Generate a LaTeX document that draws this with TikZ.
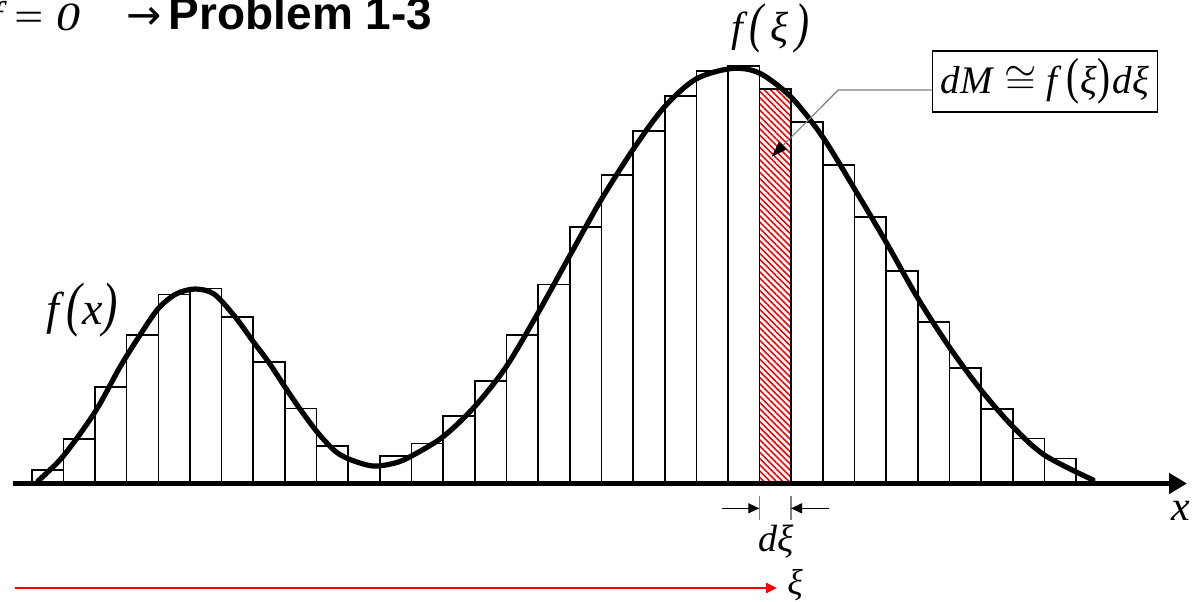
\documentclass[tikz,border=0pt]{standalone}
\usepackage{fontspec}
\setmainfont{Liberation Serif}
\newfontfamily\arialfont{Liberation Sans}
\newfontfamily\dejavufont{DejaVu Sans}
\usetikzlibrary{arrows.meta,patterns.meta}
\newcommand{\bigpar}[1]{\scalebox{1}[1.3]{#1}}
\begin{document}
\begin{tikzpicture}[x=0.5pt,y=-0.5pt,
  barbox/.style={draw=black, line width=0.8pt, fill=white},
  hatchbar/.style={draw=black, line width=0.8pt, pattern={Lines[angle=-45,distance=2.2pt,line width=0.8pt]}, pattern color=red},
  curveline/.style={line width=2.6pt, line cap=round, line join=round},
  axisline/.style={line width=2.6pt, -{Triangle[length=9pt,width=10pt]}},
  dimarrow/.style={line width=0.6pt, -{Triangle[length=5.5pt,width=5pt]}},
  tickline/.style={draw=gray, line width=0.6pt},
  redarrow/.style={red, line width=1.3pt, -{Triangle[length=5.5pt,width=5pt]}},
  callout/.style={draw=gray, line width=0.6pt, -{Triangle[length=8pt,width=5.5pt,color=black]}},
  lbl/.style={inner sep=0pt, font=\fontsize{#1}{#1}\selectfont\itshape},
  lbl/.default=18]
\useasboundingbox (0,0) rectangle (1192,601);
\fill[white] (0,0) rectangle (1192,601);

% bars
\foreach \k/\t in {0/470,1/439,2/386.7,3/335,4/294.3,5/288.3,6/316.7,7/361.7,8/408.3,9/446,
  11/456,12/443.3,13/415.7,14/381,15/335,16/284.3,17/226.7,18/175,19/130.7,20/96,21/71,22/66,
  24/121.7,25/165,26/216.7,27/270.7,28/321.7,29/367.7,30/409,31/438.3,32/458.3}
  \draw[barbox] ({31.7+\k*31.65},483) rectangle ({31.7+(\k+1)*31.65},\t);
\fill[white] (759.3,483) rectangle (791,89);
\draw[hatchbar] (759.3,483) rectangle (791,89);

% curve
\draw[curveline] plot[smooth, tension=0.5] coordinates {
  (38,481) (63.3,456) (95,412) (120,367) (140,335) (158.3,308.5) (176,294) (195,289)
  (214,294) (235,316.7) (253.3,341.7) (268.3,361.7) (285,387) (300,409) (318,433)
  (335,451) (350,459.5) (373,466) (395,463) (411.5,456) (442.7,437)
  (474.3,407) (506,367) (537.7,313.5) (569.3,256.5) (601,200) (632.7,150) (664.3,107)
  (696,79) (731.7,68.5) (759.3,73) (791,97) (822.7,137) (854.3,188.5) (886,242)
  (917.7,298) (949.3,347) (981,390) (1012.7,426.5) (1044.3,455) (1093,480)};

% axis
\coordinate (ax0) at (13,483.5);
\coordinate (ax1) at (1187,483.5);
\draw[axisline] (ax0) -- (ax1);
\node[lbl=21] (xlab) at (1181,511) {x};

% labels
\node[lbl=23] (fx) at (82,310) {f\,\bigpar{(}x\bigpar{)}};
\node[lbl=21] (fxi) at (770.5,28) {f\,\bigpar{(}\,ξ\,\bigpar{)}};

% formula box
\node[draw=black, line width=0.7pt, minimum width=112.5pt, minimum height=30.5pt, inner sep=0pt,
  font=\fontsize{19.5}{19.5}\selectfont] (box) at (1044.8,81.6)
  {\textit{dM}\hspace{5pt}$\cong$\hspace{5pt}\textit{f}\hspace{2pt}\bigpar{(}\hspace{0.5pt}\textit{ξ}\hspace{0.5pt}\bigpar{)}\hspace{1pt}\textit{dξ}};
\coordinate (knee) at (838.3,90);
\coordinate (tip) at (771.7,156.7);
\draw[callout] (box.west |- knee) -- (knee) -- (tip);

% d xi dimension
\coordinate (dl0) at (721.7,508.3);
\coordinate (dl1) at (759.3,508.3);
\coordinate (dr0) at (829,508.3);
\coordinate (dr1) at (791,508.3);
\draw[tickline] (759.3,496) -- (759.3,520);
\draw[tickline] (791,496) -- (791,520);
\draw[dimarrow] (dl0) -- (dl1);
\draw[dimarrow] (dr0) -- (dr1);
\node[lbl=19] (dxi) at (776,542) {dξ};

% red xi arrow
\coordinate (r0) at (15,588);
\coordinate (r1) at (777,588);
\draw[redarrow] (r0) -- (r1);
\node[lbl=18] (xil) at (795,585) {ξ};

% top text
\node[inner sep=0pt, anchor=base east, font=\fontsize{20}{20}\selectfont\itshape] (ftop) at (3,29) {f};
\node[inner sep=0pt, anchor=base, font=\fontsize{20}{20}\selectfont] (eqtop) at (29.2,30) {\scalebox{1.3}[1]{=}};
\node[inner sep=0pt, anchor=base, font=\fontsize{20}{20}\selectfont\itshape] (zero) at (68.5,30) {\scalebox{1.2}[1]{0}};
\node[inner sep=0pt, anchor=base west, font=\fontsize{21}{21}\selectfont\dejavufont] (arr) at (126,29.3) {→};
\node[inner sep=0pt, anchor=base west, font=\fontsize{23}{23}\selectfont\arialfont\bfseries] (prob) at (168.5,29.3) {Problem 1-3};
\end{tikzpicture}
\end{document}
